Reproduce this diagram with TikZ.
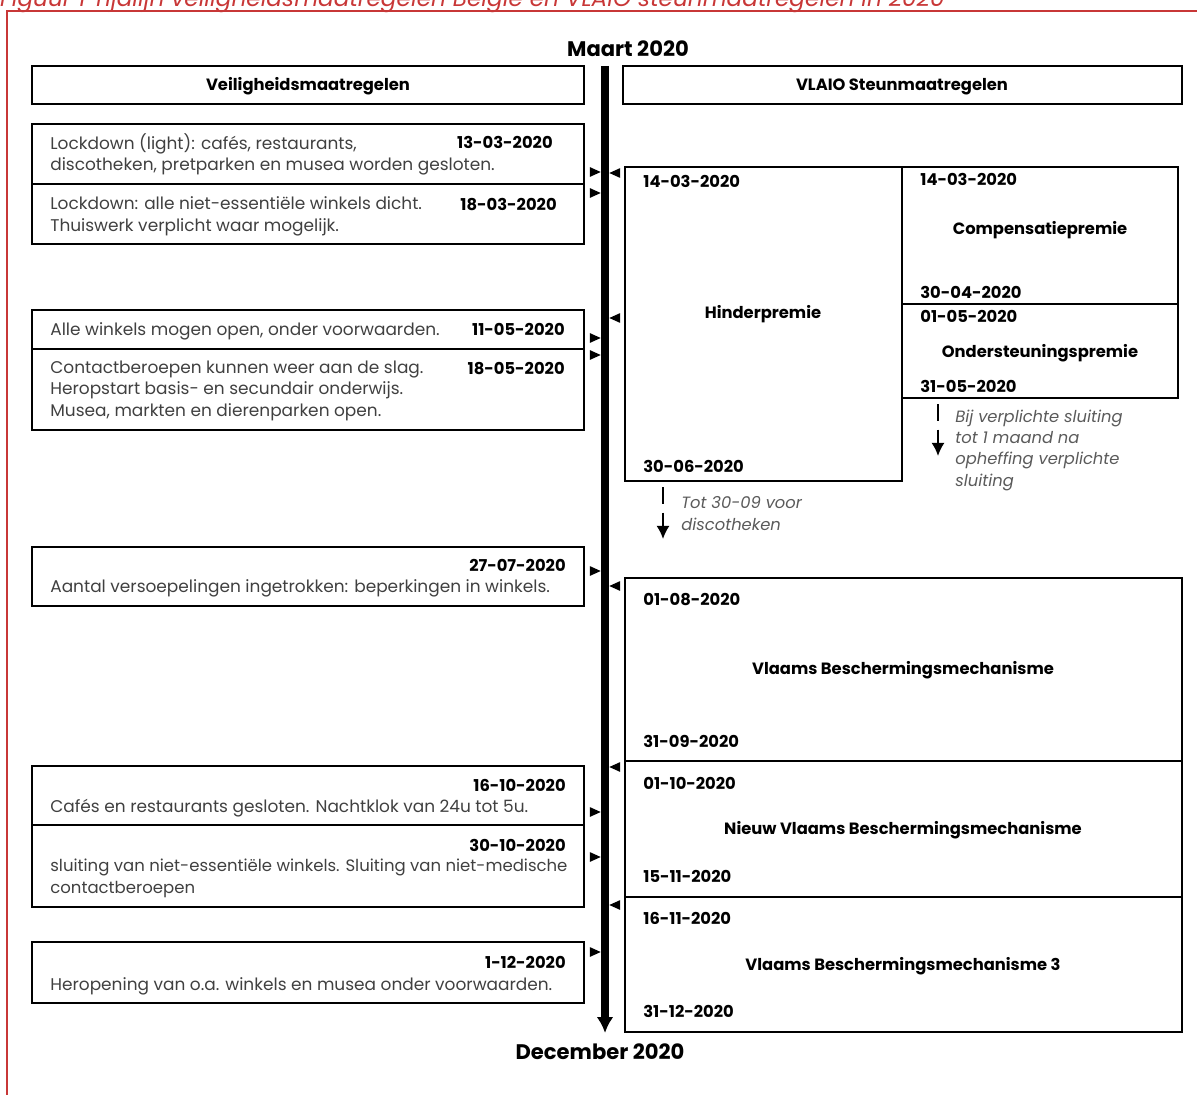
\documentclass[tikz,border=0pt]{standalone}
\usepackage{fontspec}
\setmainfont{Poppins}
\usetikzlibrary{shapes.geometric, arrows, arrows.meta, fit}

\definecolor{capred}{RGB}{200,55,55}
\definecolor{txtgray}{RGB}{64,64,64}
\definecolor{notegray}{RGB}{90,90,90}

\begin{document}
\begin{tikzpicture}[x=0.02cm, y=-0.02cm, >=latex', font=\fontsize{9.65}{12}\selectfont]

\tikzstyle{box} = [draw, line width=1.2pt, inner sep=0pt]
\tikzstyle{date} = [font=\fontsize{9.3}{12}\selectfont\bfseries, inner sep=0pt]
\tikzstyle{title} = [font=\fontsize{9.3}{12}\selectfont\bfseries, inner sep=0pt, anchor=base]
\tikzstyle{desc} = [text=txtgray, align=left, inner sep=0pt, anchor=base west]
\tikzstyle{note} = [text=notegray, font=\fontsize{9.3}{12}\selectfont\itshape, align=left, inner sep=0pt, anchor=base west]
\tikzstyle{tright} = [fill, isosceles triangle, isosceles triangle stretches, inner sep=0pt, minimum height=6.2pt, minimum width=5.6pt]
\tikzstyle{tleft} = [tright, shape border rotate=180]
\tikzstyle{later} = [-{Latex[length=7.5pt, width=7.5pt]}, line width=1.1pt, dash pattern=on 9.6pt off 5pt]

\useasboundingbox (0,0) rectangle (1197,1095);

% kader en bijschrift
\node[text=capred, font=\fontsize{13.2}{15}\selectfont\itshape, inner sep=0pt, anchor=base east] (caption) at (945,7) {Figuur 1 Tijdlijn veiligheidsmaatregelen België en VLAIO steunmaatregelen in 2020};
\draw[capred, line width=1.2pt] (1197,11) -- (7,11) -- (7,1095);

% tijdlijn
\node[font=\fontsize{12}{14}\selectfont\bfseries, inner sep=0pt, anchor=base] (start) at (628,57) {Maart 2020};
\node[font=\fontsize{12}{14}\selectfont\bfseries, inner sep=0pt, anchor=base] (end) at (600,1059) {December 2020};
\coordinate (top) at (605,66);
\coordinate (bottom) at (605,1033);
\draw[-{Latex[length=9pt, width=9.5pt]}, line width=4pt] (top) -- (bottom);

% koppen
\node[box, fit={(32,66) (584,104)}] (hdrL) {};
\node[title] (hdrLt) at (308,91) {Veiligheidsmaatregelen};
\node[box, fit={(623,66) (1182,104)}] (hdrR) {};
\node[title] (hdrRt) at (902,91) {VLAIO Steunmaatregelen};

% veiligheidsmaatregelen
\node[box, fit={(32,124) (584,184)}] (lock1) {};
\node[desc] (lock1t) at (50,171) {Lockdown (light): cafés, restaurants,\\discotheken, pretparken en musea worden gesloten.};
\node[date, anchor=base east] (lock1d) at (553,149) {13-03-2020};

\node[box, fit={(32,184) (584,244)}] (lock2) {};
\node[desc] (lock2t) at (50,231) {Lockdown: alle niet-essentiële winkels dicht.\\Thuiswerk verplicht waar mogelijk.};
\node[date, anchor=base east] (lock2d) at (557,210) {18-03-2020};

\node[box, fit={(32,310) (584,349)}] (open1) {};
\node[desc] (open1t) at (50,335) {Alle winkels mogen open, onder voorwaarden.};
\node[date, anchor=base east] (open1d) at (565,335) {11-05-2020};

\node[box, fit={(32,349) (584,430)}] (open2) {};
\node[desc] (open2t) at (50,416) {Contactberoepen kunnen weer aan de slag.\\Heropstart basis- en secundair onderwijs.\\Musea, markten en dierenparken open.};
\node[date, anchor=base east] (open2d) at (565,374) {18-05-2020};

\node[box, fit={(32,547) (584,606)}] (strict) {};
\node[date, anchor=base east] (strictd) at (566,571) {27-07-2020};
\node[desc] (strictt) at (50,592) {Aantal versoepelingen ingetrokken: beperkingen in winkels.};

\node[box, fit={(32,766) (584,825)}] (close1) {};
\node[date, anchor=base east] (close1d) at (566,791) {16-10-2020};
\node[desc] (close1t) at (50,812) {Cafés en restaurants gesloten. Nachtklok van 24u tot 5u.};

\node[box, fit={(32,825) (584,907)}] (close2) {};
\node[date, anchor=base east] (close2d) at (566,851) {30-10-2020};
\node[desc, font=\fontsize{9.4}{12}\selectfont] (close2t) at (50,893) {sluiting van niet-essentiële winkels. Sluiting van niet-medische\\contactberoepen};

\node[box, fit={(32,942) (584,1003)}] (reopen) {};
\node[date, anchor=base east] (reopend) at (566,968) {1-12-2020};
\node[desc] (reopent) at (50,990) {Heropening van o.a. winkels en musea onder voorwaarden.};

% steunmaatregelen
\node[box, fit={(625,167) (902,481)}] (hinder) {};
\node[date, anchor=base west] (hinders) at (643,187) {14-03-2020};
\node[title] (hindert) at (763,318) {Hinderpremie};
\node[date, anchor=base west] (hindere) at (643,472) {30-06-2020};

\node[box, fit={(902,167) (1178,304)}] (comp) {};
\node[date, anchor=base west] (comps) at (920,185) {14-03-2020};
\node[title] (compt) at (1040,234) {Compensatiepremie};
\node[date, anchor=base west] (compe) at (920,298) {30-04-2020};

\node[box, fit={(902,304) (1178,398)}] (onder) {};
\node[date, anchor=base west] (onders) at (920,322) {01-05-2020};
\node[title] (ondert) at (1040,357) {Ondersteuningspremie};
\node[date, anchor=base west] (ondere) at (920,392) {31-05-2020};

\node[box, fit={(625,578) (1182,761)}] (vbm) {};
\node[date, anchor=base west] (vbms) at (643,605) {01-08-2020};
\node[title] (vbmt) at (903,674) {Vlaams Beschermingsmechanisme};
\node[date, anchor=base west] (vbme) at (643,747) {31-09-2020};

\node[box, fit={(625,761) (1182,897)}] (nvbm) {};
\node[date, anchor=base west] (nvbms) at (643,789) {01-10-2020};
\node[title] (nvbmt) at (903,834) {Nieuw Vlaams Beschermingsmechanisme};
\node[date, anchor=base west] (nvbme) at (643,882) {15-11-2020};

\node[box, fit={(625,897) (1182,1032)}] (vbm3) {};
\node[date, anchor=base west] (vbm3s) at (643,924) {16-11-2020};
\node[title] (vbm3t) at (903,970) {Vlaams Beschermingsmechanisme 3};
\node[date, anchor=base west] (vbm3e) at (643,1017) {31-12-2020};

% verlengingen
\coordinate (hinderx) at (663,539);
\draw[later] (hinder.south west -| hinderx) ++(0,5) -- (hinderx);
\node[note] (hindern) at (681,530) {Tot 30-09 voor\\discotheken};

\coordinate (onderx) at (938,456);
\draw[later] (onder.south west -| onderx) ++(0,5) -- (onderx);
\node[note] (ondern) at (955,486) {Bij verplichte sluiting\\tot 1 maand na\\opheffing verplichte\\sluiting};

% markeringen
\node[tright] (m1) at (593,172) {};
\node[tright] (m2) at (593,193) {};
\node[tright] (m3) at (593,338) {};
\node[tright] (m4) at (593,355) {};
\node[tright] (m5) at (593,571) {};
\node[tright] (m6) at (593,812) {};
\node[tright] (m7) at (593,857) {};
\node[tright] (m8) at (593,952) {};
\node[tleft] (s1) at (617,173) {};
\node[tleft] (s2) at (617,318) {};
\node[tleft] (s3) at (617,586) {};
\node[tleft] (s4) at (617,767) {};
\node[tleft] (s5) at (617,905) {};

\end{tikzpicture}
\end{document}
